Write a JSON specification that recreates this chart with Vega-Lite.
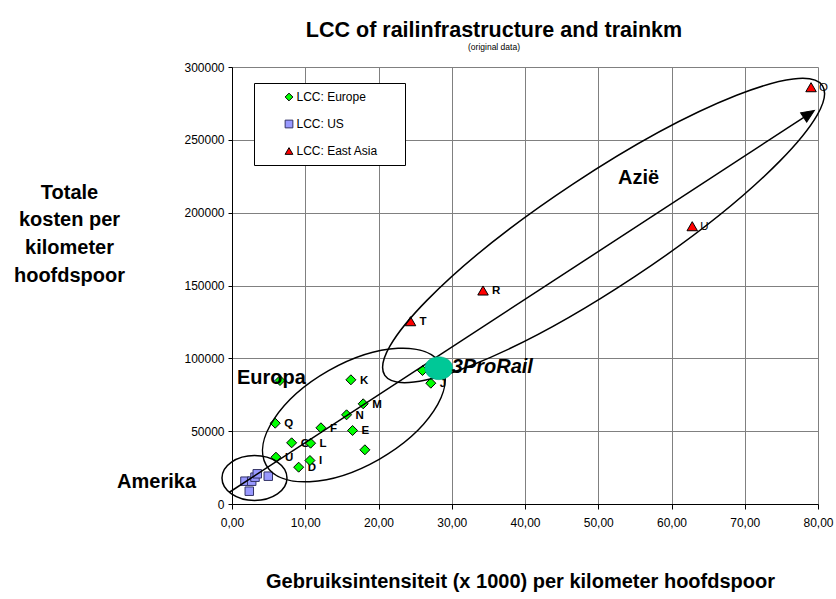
{
  "$schema": "https://vega.github.io/schema/vega-lite/v6.json",
  "width": 586,
  "height": 437,
  "autosize": {"type": "none"},
  "padding": {"left": 232, "top": 67, "right": 18, "bottom": 95},
  "background": "white",
  "config": {
    "font": "Liberation Sans",
    "view": {"stroke": null},
    "axis": {
      "gridColor": "#808080", "gridOpacity": 1, "gridWidth": 1,
      "domainColor": "#000000", "domainWidth": 1, "tickColor": "#000000",
      "labelColor": "#000000", "labelFont": "Liberation Sans", "labelFontSize": 12,
      "titleFont": "Liberation Sans", "titleFontSize": 20, "titleFontWeight": "bold", "titleColor": "#000000"
    },
    "legend": {
      "padding": 8, "strokeColor": "#000000", "fillColor": "#ffffff", "cornerRadius": 0,
      "symbolOffset": 21, "labelOffset": 1.5, "rowPadding": 15,
      "labelFont": "Liberation Sans", "labelFontSize": 12, "labelColor": "#000000",
      "symbolSize": 60, "symbolStrokeWidth": 1,
      "titleOrient": "right", "titlePadding": 18.5, "titleFontSize": 12
    }
  },
  "title": {
    "text": "LCC of railinfrastructure and trainkm",
    "subtitle": "(original data)",
    "font": "Liberation Sans", "fontSize": 21.5, "fontWeight": "bold", "color": "#000000",
    "subtitleFont": "Liberation Sans", "subtitleFontSize": 8.5, "subtitleColor": "#000000",
    "anchor": "middle", "frame": "group", "dx": -31, "offset": 10, "subtitlePadding": 1
  },
  "datasets": {
    "pts": [
      {"series": "LCC: Europe", "label": "", "x": 6.55, "y": 84782},
      {"series": "LCC: Europe", "label": "K", "x": 16.23, "y": 85263},
      {"series": "LCC: Europe", "label": "M", "x": 17.91, "y": 68787},
      {"series": "LCC: Europe", "label": "N", "x": 15.64, "y": 61236},
      {"series": "LCC: Europe", "label": "F", "x": 12.14, "y": 52311},
      {"series": "LCC: Europe", "label": "E", "x": 16.46, "y": 50458},
      {"series": "LCC: Europe", "label": "Q", "x": 5.90, "y": 55469},
      {"series": "LCC: Europe", "label": "G", "x": 8.14, "y": 42014},
      {"series": "LCC: Europe", "label": "L", "x": 10.73, "y": 41739},
      {"series": "LCC: Europe", "label": "U", "x": 6.00, "y": 32128},
      {"series": "LCC: Europe", "label": "I", "x": 10.64, "y": 29863},
      {"series": "LCC: Europe", "label": "D", "x": 9.10, "y": 25263},
      {"series": "LCC: Europe", "label": "", "x": 18.14, "y": 37209},
      {"series": "LCC: Europe", "label": "", "x": 26.01, "y": 91648},
      {"series": "LCC: Europe", "label": "J", "x": 27.14, "y": 82929},
      {"series": "LCC: US", "label": "", "x": 1.77, "y": 15652},
      {"series": "LCC: US", "label": "", "x": 2.69, "y": 15652},
      {"series": "LCC: US", "label": "", "x": 3.14, "y": 18398},
      {"series": "LCC: US", "label": "", "x": 3.45, "y": 20732},
      {"series": "LCC: US", "label": "", "x": 4.95, "y": 19085},
      {"series": "LCC: US", "label": "", "x": 2.36, "y": 8787},
      {"series": "LCC: East Asia", "label": "T", "x": 24.37, "y": 125492},
      {"series": "LCC: East Asia", "label": "R", "x": 34.27, "y": 146568},
      {"series": "LCC: East Asia", "label": "U", "x": 62.83, "y": 190710},
      {"series": "LCC: East Asia", "label": "O", "x": 79.05, "y": 286133}
    ],
    "notes": [
      {"text": "Europa", "x": 0.68, "y": 86160, "pos": "left"},
      {"text": "Amerika", "x": -4.91, "y": 15446, "pos": "right"},
      {"text": "Azië", "x": 55.5, "y": 223456, "pos": "center"}
    ]
  },
  "encoding": {
    "x": {
      "field": "x", "type": "quantitative",
      "scale": {"domain": [0, 80], "nice": false, "zero": false},
      "axis": {
        "title": "Gebruiksintensiteit (x 1000) per kilometer hoofdspoor",
        "titleX": 288, "titleY": 83.5, "titleAlign": "center", "titleBaseline": "alphabetic",
        "values": [0, 10, 20, 30, 40, 50, 60, 70, 80],
        "labelExpr": "replace(format(datum.value, '.2f'), '.', ',')",
        "tickSize": 5, "labelPadding": 8, "labelFlush": false, "labelOverlap": false, "grid": true
      }
    },
    "y": {
      "field": "y", "type": "quantitative",
      "scale": {"domain": [0, 300000], "nice": false, "zero": false},
      "axis": {
        "title": ["Totale", "kosten per", "kilometer", "hoofdspoor"],
        "titleAngle": 0, "titleX": -163, "titleY": 131, "titleAlign": "center",
        "titleBaseline": "alphabetic", "titleLineHeight": 27.8,
        "values": [0, 50000, 100000, 150000, 200000, 250000, 300000],
        "format": "d", "tickSize": 4, "labelPadding": 4, "labelOverlap": false, "grid": true
      }
    }
  },
  "layer": [
    {
      "data": {"name": "pts"},
      "transform": [{"filter": "datum.label != '' && !(datum.series == 'LCC: East Asia' && datum.y > 180000)"}],
      "mark": {"type": "text", "align": "left", "baseline": "middle", "dx": 9, "dy": 1, "fontSize": 11.5, "fontWeight": "bold", "color": "#000000"},
      "encoding": {"text": {"field": "label"}}
    },
    {
      "data": {"name": "pts"},
      "transform": [{"filter": "datum.series == 'LCC: East Asia' && datum.y > 180000"}],
      "mark": {"type": "text", "align": "left", "baseline": "middle", "dx": 8, "dy": 1, "fontSize": 11.5, "fontWeight": "normal", "color": "#000000"},
      "encoding": {"text": {"field": "label"}}
    },
    {
      "data": {"name": "pts"},
      "transform": [{"filter": "datum.series == 'LCC: Europe'"}],
      "mark": {"type": "point", "filled": true, "opacity": 1, "strokeWidth": 1, "size": 100},
      "encoding": {
        "fill": {"field": "series", "type": "nominal", "scale": {"domain": ["LCC: Europe", "LCC: US", "LCC: East Asia"], "range": ["#00FF00", "#9999FF", "#FF0000"]}, "legend": {"title": "\u00a0", "orient": "none", "legendX": 22, "legendY": 16}},
        "stroke": {"field": "series", "type": "nominal", "scale": {"domain": ["LCC: Europe", "LCC: US", "LCC: East Asia"], "range": ["#000000", "#333366", "#000000"]}, "legend": {"title": "\u00a0", "orient": "none", "legendX": 22, "legendY": 16}},
        "shape": {"field": "series", "type": "nominal", "scale": {"domain": ["LCC: Europe", "LCC: US", "LCC: East Asia"], "range": ["diamond", "square", "triangle-up"]}, "legend": {"title": "\u00a0", "orient": "none", "legendX": 22, "legendY": 16}}
      }
    },
    {
      "data": {"name": "pts"},
      "transform": [{"filter": "datum.series == 'LCC: US'"}],
      "mark": {"type": "point", "filled": true, "opacity": 1, "strokeWidth": 1, "size": 72},
      "encoding": {
        "fill": {"field": "series", "type": "nominal", "scale": {"domain": ["LCC: Europe", "LCC: US", "LCC: East Asia"], "range": ["#00FF00", "#9999FF", "#FF0000"]}, "legend": {"title": "\u00a0", "orient": "none", "legendX": 22, "legendY": 16}},
        "stroke": {"field": "series", "type": "nominal", "scale": {"domain": ["LCC: Europe", "LCC: US", "LCC: East Asia"], "range": ["#000000", "#333366", "#000000"]}, "legend": {"title": "\u00a0", "orient": "none", "legendX": 22, "legendY": 16}},
        "shape": {"field": "series", "type": "nominal", "scale": {"domain": ["LCC: Europe", "LCC: US", "LCC: East Asia"], "range": ["diamond", "square", "triangle-up"]}, "legend": {"title": "\u00a0", "orient": "none", "legendX": 22, "legendY": 16}}
      }
    },
    {
      "data": {"name": "pts"},
      "transform": [{"filter": "datum.series == 'LCC: East Asia'"}],
      "mark": {"type": "point", "filled": true, "opacity": 1, "strokeWidth": 1, "size": 110},
      "encoding": {
        "fill": {"field": "series", "type": "nominal", "scale": {"domain": ["LCC: Europe", "LCC: US", "LCC: East Asia"], "range": ["#00FF00", "#9999FF", "#FF0000"]}, "legend": {"title": "\u00a0", "orient": "none", "legendX": 22, "legendY": 16}},
        "stroke": {"field": "series", "type": "nominal", "scale": {"domain": ["LCC: Europe", "LCC: US", "LCC: East Asia"], "range": ["#000000", "#333366", "#000000"]}, "legend": {"title": "\u00a0", "orient": "none", "legendX": 22, "legendY": 16}},
        "shape": {"field": "series", "type": "nominal", "scale": {"domain": ["LCC: Europe", "LCC: US", "LCC: East Asia"], "range": ["diamond", "square", "triangle-up"]}, "legend": {"title": "\u00a0", "orient": "none", "legendX": 22, "legendY": 16}}
      }
    },
    {
      "data": {"values": [{"x": 3.07, "y": 17849}]},
      "mark": {"type": "point", "filled": false, "stroke": "#000000", "strokeWidth": 1.5, "opacity": 1,
        "shape": "M-1,0C-1,-0.3822,-0.5523,-0.692,0,-0.692C0.5523,-0.692,1,-0.3822,1,0C1,0.3822,0.5523,0.692,0,0.692C-0.5523,0.692,-1,0.3822,-1,0Z",
        "size": 4225, "angle": 0}
    },
    {
      "data": {"values": [{"x": 16.64, "y": 61098}]},
      "mark": {"type": "point", "filled": false, "stroke": "#000000", "strokeWidth": 1.5, "opacity": 1,
        "shape": "M-1,0C-1,-0.2789,-0.5523,-0.505,0,-0.505C0.5523,-0.505,1,-0.2789,1,0C1,0.2789,0.5523,0.505,0,0.505C-0.5523,0.505,-1,0.2789,-1,0Z",
        "size": 40804, "angle": 330.3}
    },
    {
      "data": {"values": [{"x": 50.73, "y": 187757}]},
      "mark": {"type": "point", "filled": false, "stroke": "#000000", "strokeWidth": 1.5, "opacity": 1,
        "shape": "M-1,0C-1,-0.1171,-0.5523,-0.212,0,-0.212C0.5523,-0.212,1,-0.1171,1,0C1,0.1171,0.5523,0.212,0,0.212C-0.5523,0.212,-1,0.1171,-1,0Z",
        "size": 275418, "angle": 326.5}
    },
    {
      "data": {"values": [{"x": -0.41, "y": 7895, "o": 0}, {"x": 78.59, "y": 267117, "o": 1}]},
      "mark": {"type": "line", "color": "#000000", "strokeWidth": 1.5},
      "encoding": {"order": {"field": "o"}}
    },
    {
      "data": {"values": [{"x": 78.59, "y": 267117}]},
      "mark": {"type": "point", "filled": true, "fill": "#000000", "stroke": "#000000", "strokeWidth": 1, "opacity": 1,
        "shape": "M0,-1L0.7,0.6L-0.7,0.6Z", "size": 256, "angle": 57}
    },
    {
      "data": {"values": [{"x": 28.23, "y": 93227}]},
      "mark": {"type": "point", "filled": true, "fill": "#00C897", "stroke": "#00A07A", "strokeWidth": 0.5, "opacity": 1,
        "shape": "M-1,0C-1,-0.4536,-0.5523,-0.821,0,-0.821C0.5523,-0.821,1,-0.4536,1,0C1,0.4536,0.5523,0.821,0,0.821C-0.5523,0.821,-1,0.4536,-1,0Z",
        "size": 784}
    },
    {
      "data": {"values": [{"text": "3ProRail", "x": 30.0, "y": 93913}]},
      "mark": {"type": "text", "align": "left", "baseline": "middle", "fontSize": 20, "fontWeight": "bold", "fontStyle": "italic", "color": "#000000"},
      "encoding": {"text": {"field": "text"}}
    },
    {
      "data": {"name": "notes"},
      "transform": [{"filter": "datum.pos == 'left'"}],
      "mark": {"type": "text", "align": "left", "baseline": "middle", "fontSize": 20, "fontWeight": "bold", "color": "#000000"},
      "encoding": {"text": {"field": "text"}}
    },
    {
      "data": {"name": "notes"},
      "transform": [{"filter": "datum.pos == 'right'"}],
      "mark": {"type": "text", "align": "right", "baseline": "middle", "fontSize": 20, "fontWeight": "bold", "color": "#000000"},
      "encoding": {"text": {"field": "text"}}
    },
    {
      "data": {"name": "notes"},
      "transform": [{"filter": "datum.pos == 'center'"}],
      "mark": {"type": "text", "align": "center", "baseline": "middle", "fontSize": 20, "fontWeight": "bold", "color": "#000000"},
      "encoding": {"text": {"field": "text"}}
    }
  ]
}
